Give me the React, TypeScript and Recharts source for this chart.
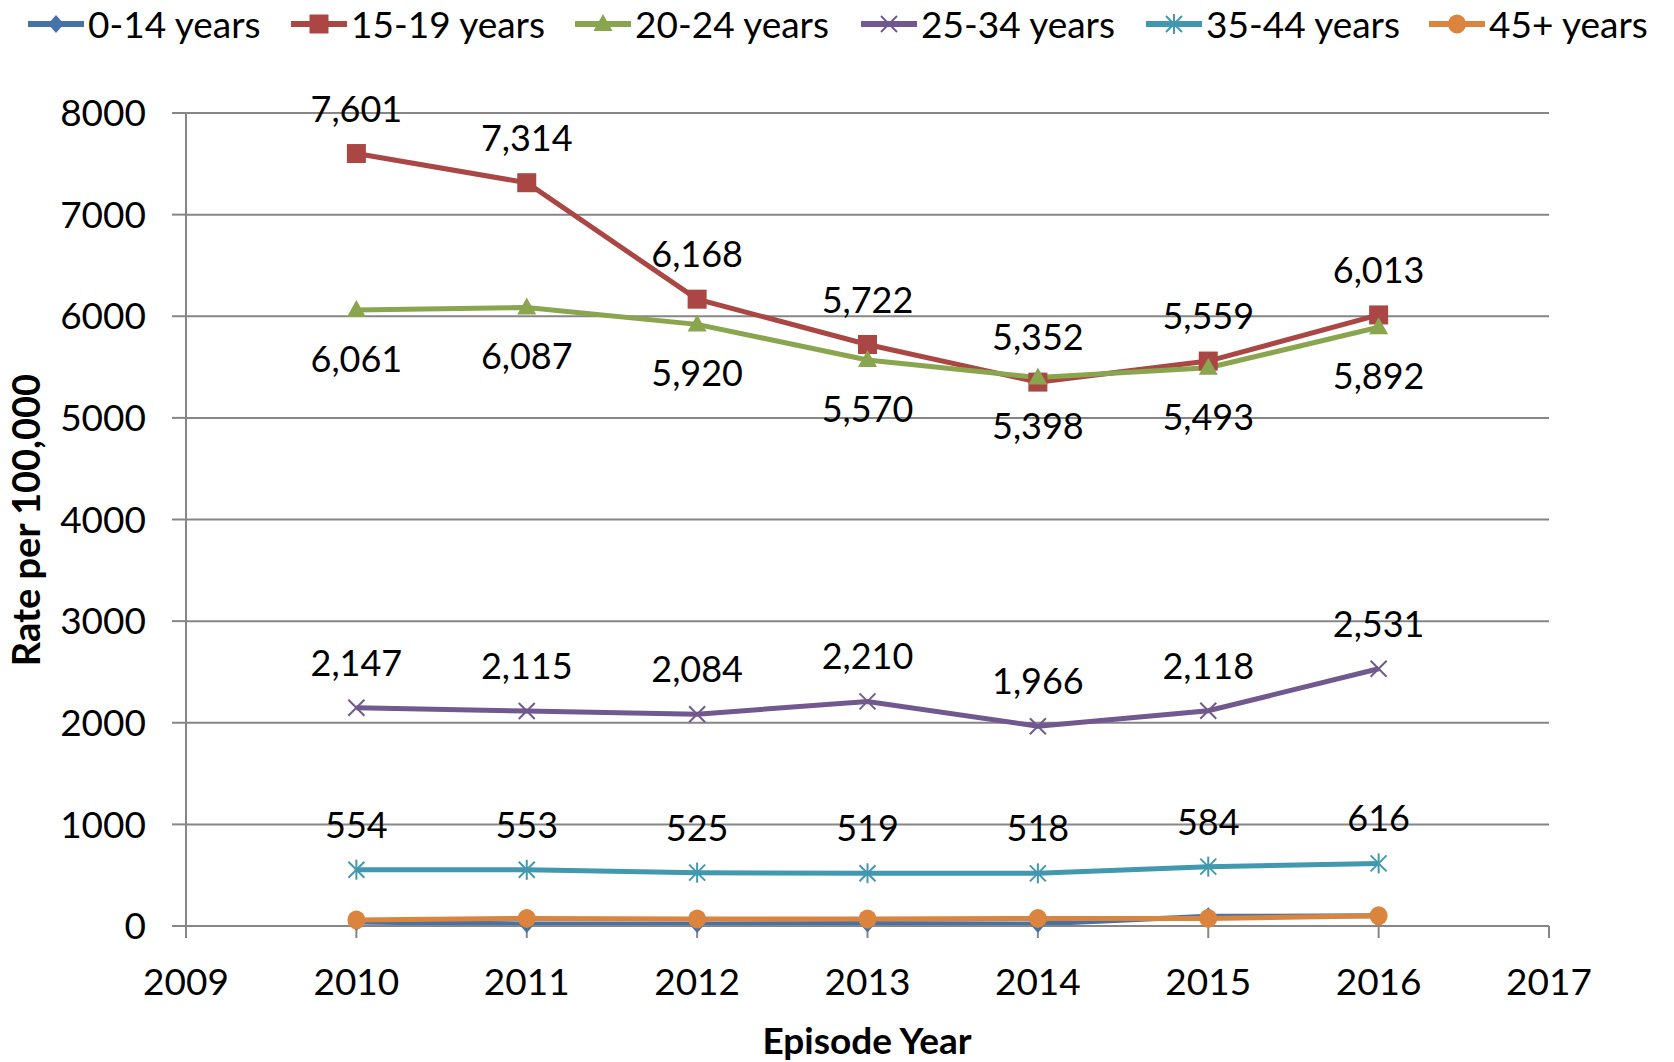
import React from "react";
import {
  CartesianGrid,
  Label,
  LabelList,
  Line,
  LineChart,
  XAxis,
  YAxis,
} from "recharts";

const years = [2010, 2011, 2012, 2013, 2014, 2015, 2016];
const age0to14 = [40, 20, 20, 25, 20, 95, 100];
const age15to19 = [7601, 7314, 6168, 5722, 5352, 5559, 6013];
const age20to24 = [6061, 6087, 5920, 5570, 5398, 5493, 5892];
const age25to34 = [2147, 2115, 2084, 2210, 1966, 2118, 2531];
const age35to44 = [554, 553, 525, 519, 518, 584, 616];
const age45plus = [60, 75, 70, 70, 75, 75, 100];

const xTicks = [2009, 2010, 2011, 2012, 2013, 2014, 2015, 2016, 2017];
const yTicks = [0, 1000, 2000, 3000, 4000, 5000, 6000, 7000, 8000];

const FONT = "Lato, 'Open Sans', sans-serif";

type Shape = "diamond" | "square" | "triangle" | "x" | "star" | "circle";

const series: {
  key: string;
  name: string;
  color: string;
  shape: Shape;
  label?: "above" | "below";
}[] = [
  { key: "a", name: "0-14 years", color: "#4572A7", shape: "diamond" },
  { key: "b", name: "15-19 years", color: "#AA4643", shape: "square", label: "above" },
  { key: "c", name: "20-24 years", color: "#89A54E", shape: "triangle", label: "below" },
  { key: "d", name: "25-34 years", color: "#71588F", shape: "x", label: "above" },
  { key: "e", name: "35-44 years", color: "#4198AF", shape: "star", label: "above" },
  { key: "f", name: "45+ years", color: "#DB843D", shape: "circle" },
];

// left edge of each legend entry (icon start)
const legendLeft = [28, 291, 575, 861, 1146, 1429];

const data = years.map((year, i) => ({
  year,
  a: age0to14[i],
  b: age15to19[i],
  c: age20to24[i],
  d: age25to34[i],
  e: age35to44[i],
  f: age45plus[i],
}));

function marker(shape: Shape, color: string, cx: number, cy: number, key?: string) {
  switch (shape) {
    case "diamond":
      return (
        <polygon
          key={key}
          points={`${cx},${cy - 9} ${cx + 8},${cy} ${cx},${cy + 9} ${cx - 8},${cy}`}
          fill={color}
        />
      );
    case "square":
      return <rect key={key} x={cx - 9.5} y={cy - 9.5} width={19} height={19} fill={color} />;
    case "triangle":
      return (
        <polygon
          key={key}
          points={`${cx},${cy - 10} ${cx + 9.5},${cy + 7} ${cx - 9.5},${cy + 7}`}
          fill={color}
        />
      );
    case "x":
      return (
        <g key={key} stroke={color} strokeWidth={2}>
          <line x1={cx - 8} y1={cy - 8} x2={cx + 8} y2={cy + 8} />
          <line x1={cx - 8} y1={cy + 8} x2={cx + 8} y2={cy - 8} />
        </g>
      );
    case "star":
      return (
        <g key={key} stroke={color} strokeWidth={2}>
          <line x1={cx - 8} y1={cy - 8} x2={cx + 8} y2={cy + 8} />
          <line x1={cx - 8} y1={cy + 8} x2={cx + 8} y2={cy - 8} />
          <line x1={cx} y1={cy - 10} x2={cx} y2={cy + 10} />
        </g>
      );
    default:
      return <ellipse key={key} cx={cx} cy={cy} rx={9} ry={9.5} fill={color} />;
  }
}

const fmt = (v: number) => v.toLocaleString("en-US");

function LegendRow() {
  return (
    <div style={{ position: "absolute", left: 0, top: 0, width: 1674, height: 47 }}>
      {series.map((s, i) => (
        <div
          key={s.key}
          style={{
            position: "absolute",
            left: legendLeft[i],
            top: 0,
            height: 47,
            display: "flex",
            alignItems: "center",
            fontFamily: FONT,
            fontSize: 37,
            whiteSpace: "nowrap",
          }}
        >
          <svg width={56} height={30} style={{ marginRight: 4 }}>
            <line x1={0} y1={15} x2={56} y2={15} stroke={s.color} strokeWidth={6} strokeLinecap="round" />
            {marker(s.shape, s.color, 28, 15)}
          </svg>
          <span>{s.name}</span>
        </div>
      ))}
    </div>
  );
}

export default function App() {
  return (
    <div style={{ position: "absolute", left: 0, top: 0, width: 1674, height: 1062, background: "#fff" }}>
      <LegendRow />
      <LineChart
        width={1674}
        height={1062}
        data={data}
        margin={{ top: 113, right: 125, bottom: 76, left: 86 }}
      >
        <CartesianGrid vertical={false} stroke="#868686" strokeWidth={2} />
        <XAxis
          dataKey="year"
          type="number"
          domain={[2009, 2017]}
          ticks={xTicks}
          height={60}
          tickSize={12}
          tickMargin={31}
          stroke="#868686"
          strokeWidth={2}
          tick={{ fill: "#000", fontSize: 37, fontFamily: FONT }}
        >
          <Label
            content={() => (
              <text x={867} y={1054} textAnchor="middle" fontFamily={FONT} fontSize={37} fontWeight={700} fill="#000">
                Episode Year
              </text>
            )}
          />
        </XAxis>
        <YAxis
          domain={[0, 8000]}
          ticks={yTicks}
          width={100}
          tickSize={14}
          tickMargin={26}
          stroke="#868686"
          strokeWidth={2}
          tick={{ fill: "#000", fontSize: 37, fontFamily: FONT }}
        >
          <Label
            content={() => (
              <text
                x={40}
                y={520}
                transform="rotate(-90, 40, 520)"
                textAnchor="middle"
                fontFamily={FONT}
                fontSize={38}
                fontWeight={700}
                fill="#000"
              >
                Rate per 100,000
              </text>
            )}
          />
        </YAxis>
        {series.map((s) => (
          <Line
            key={s.key}
            dataKey={s.key}
            name={s.name}
            stroke={s.color}
            strokeWidth={5}
            isAnimationActive={false}
            dot={(p: any) => marker(s.shape, s.color, p.cx, p.cy, `${s.key}-${p.index}`)}
            activeDot={false}
          >
            {s.label && (
              <LabelList
                dataKey={s.key}
                content={(p: any) => {
                  const x = p.x ?? p.viewBox?.x;
                  const y = p.y ?? p.viewBox?.y;
                  return (
                    <text
                      x={x}
                      y={s.label === "above" ? y - 32 : y + 62}
                      textAnchor="middle"
                      fontFamily={FONT}
                      fontSize={36}
                      fill="#000"
                    >
                      {fmt(Number(p.value))}
                    </text>
                  );
                }}
              />
            )}
          </Line>
        ))}
      </LineChart>
    </div>
  );
}
